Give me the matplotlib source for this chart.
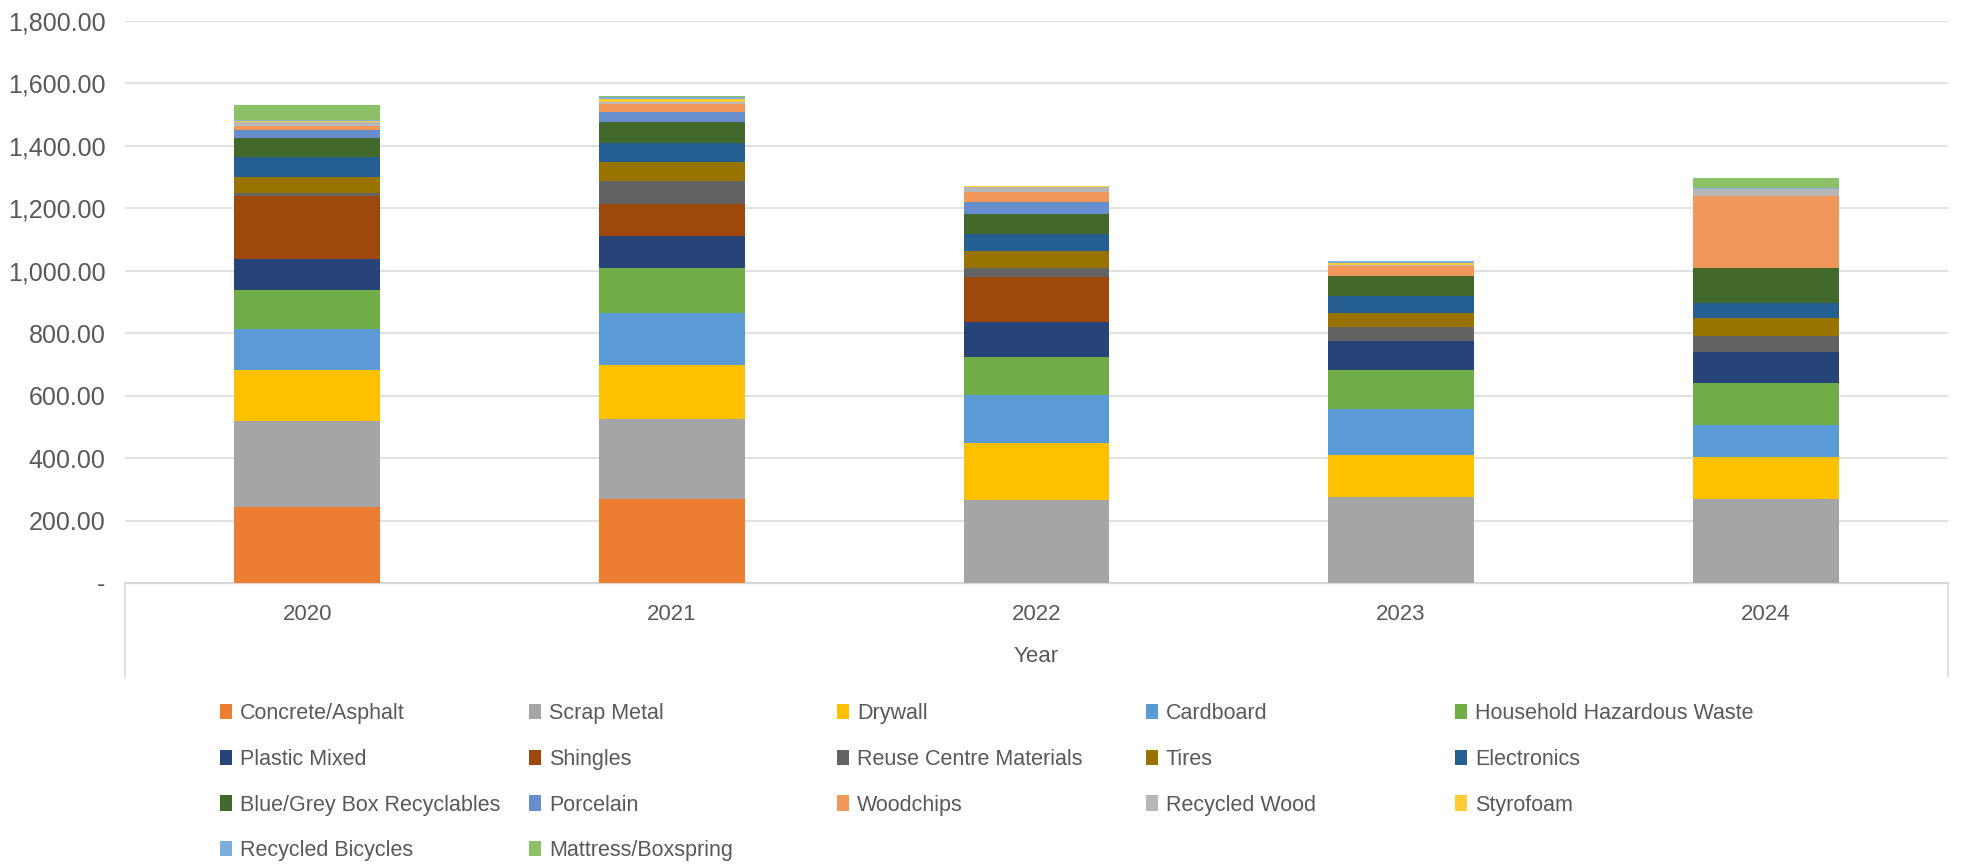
import matplotlib.pyplot as plt
from matplotlib.lines import Line2D
import numpy as np

plt.rcParams['font.family'] = ['Liberation Sans', 'DejaVu Sans']

years = ['2020', '2021', '2022', '2023', '2024']

categories = ['Concrete/Asphalt', 'Scrap Metal', 'Drywall', 'Cardboard',
              'Household Hazardous Waste', 'Plastic Mixed', 'Shingles',
              'Reuse Centre Materials', 'Tires', 'Electronics',
              'Blue/Grey Box Recyclables', 'Porcelain', 'Woodchips',
              'Recycled Wood', 'Styrofoam', 'Recycled Bicycles',
              'Mattress/Boxspring']

# tonnes per year
concrete   = [245, 269, 0, 0, 0]
scrap      = [274, 257, 265, 274, 269]
drywall    = [164, 173, 182, 136, 135]
cardboard  = [132, 167, 154, 147, 102]
hhw        = [124, 144, 124, 125, 133]
plastic    = [98, 102, 112, 92, 102]
shingles   = [203, 102, 144, 0, 0]
reuse      = [10, 73, 28, 45, 50]
tires      = [51, 62, 54, 47, 59]
electronics = [65, 61, 54, 53, 46]
bluebox    = [58, 65, 64, 65, 112]
porcelain  = [26, 32, 39, 0, 0]
woodchips  = [15, 27, 33, 31, 232]
rec_wood   = [12, 8, 15, 4, 21]
styrofoam  = [4, 8, 4, 7, 0]
bicycles   = [3, 7, 1, 6, 3]
mattress   = [48, 3, 0, 0, 32]

series = [concrete, scrap, drywall, cardboard, hhw, plastic, shingles, reuse,
          tires, electronics, bluebox, porcelain, woodchips, rec_wood,
          styrofoam, bicycles, mattress]

colors = ['#ED7D31', '#A5A5A5', '#FFC000', '#5B9BD5', '#70AD47', '#264478',
          '#9E480E', '#636363', '#997300', '#255E91', '#43682B', '#698ED0',
          '#F1975A', '#B7B7B7', '#FFCD33', '#7CAFDD', '#8CC168']

W, H = 1965, 865
fig = plt.figure(figsize=(W / 100, H / 100), dpi=100)
ax = fig.add_axes([125 / W, 1 - 583 / H, (1948 - 125) / W, (583 - 21) / H])

x = np.arange(len(years))
bottom = np.zeros(len(years))
bars = []
for vals, col, name in zip(series, colors, categories):
    b = ax.bar(x, vals, 0.4, bottom=bottom, color=col, label=name, zorder=3)
    bars.append(b)
    bottom += np.array(vals)

ax.set_xlim(-0.5, len(years) - 0.5)
ax.set_ylim(0, 1800)
ax.set_yticks(np.arange(0, 1801, 200))
ax.set_yticklabels(['-'] + [f'{v:,.2f}' for v in range(200, 1801, 200)])
ax.yaxis.grid(True, color='#D9D9D9', linewidth=1.1, zorder=0)
ax.set_xticks(x)
ax.set_xticklabels(years)
ax.tick_params(axis='both', length=0, labelcolor='#595959')
ax.tick_params(axis='x', pad=15, labelsize=16)
ax.tick_params(axis='y', pad=14, labelsize=18)
for s in ['top', 'right', 'left']:
    ax.spines[s].set_visible(False)
ax.spines['bottom'].set_color('#D9D9D9')
ax.spines['bottom'].set_linewidth(1.6)
ax.set_xlabel('Year', fontsize=16, color='#595959', labelpad=15)

# box lines under the category axis
for xp in [125, 1948]:
    fig.add_artist(Line2D([xp / W, xp / W], [1 - 583 / H, 1 - 677 / H],
                          color='#D9D9D9', linewidth=1.1))

# legend: five evenly spaced columns, filled row by row
col_x = [220, 529, 837, 1146, 1455]
for c, cx in enumerate(col_x):
    idx = list(range(c, len(categories), 5))
    leg = fig.legend([bars[i] for i in idx], [categories[i] for i in idx],
                     loc='upper left', bbox_to_anchor=(cx / W, 1 - 703 / H),
                     frameon=False, fontsize=15.5, labelcolor='#595959',
                     handlelength=0.57, handleheight=0.72, handletextpad=0.35,
                     labelspacing=1.15, borderpad=0, borderaxespad=0)

fig.savefig('out.png', dpi=100, facecolor='white')
